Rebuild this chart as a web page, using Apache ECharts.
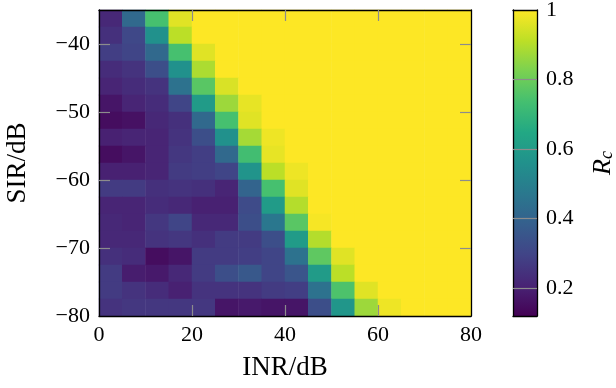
<!DOCTYPE html>
<html>
<head>
<meta charset="utf-8">
<script src="https://cdn.jsdelivr.net/npm/echarts@6/dist/echarts.min.js"></script>
<style>
  html, body { margin: 0; padding: 0; background: #fff; }
  #chart { width: 616px; height: 388px; }
</style>
</head>
<body>
<div id="chart"></div>
<script>
// cell centres (dB)
const inrCenters = [2.5, 7.5, 12.5, 17.5, 22.5, 27.5, 32.5, 37.5, 42.5, 47.5, 52.5, 57.5, 62.5, 67.5, 72.5, 77.5];
const sirCenters = [-36.25, -38.75, -41.25, -43.75, -46.25, -48.75, -51.25, -53.75, -56.25,
  -58.75, -61.25, -63.75, -66.25, -68.75, -71.25, -73.75, -76.25, -78.75];

// R_c, one row per SIR (top to bottom), one column per INR
const rc = [
  [0.22, 0.42, 0.74, 0.96, 1, 1, 1, 1, 1, 1, 1, 1, 1, 1, 1, 1],
  [0.24, 0.31, 0.56, 0.91, 1, 1, 1, 1, 1, 1, 1, 1, 1, 1, 1, 1],
  [0.28, 0.30, 0.42, 0.74, 0.96, 1, 1, 1, 1, 1, 1, 1, 1, 1, 1, 1],
  [0.23, 0.25, 0.33, 0.56, 0.89, 1, 1, 1, 1, 1, 1, 1, 1, 1, 1, 1],
  [0.21, 0.23, 0.25, 0.45, 0.77, 0.95, 1, 1, 1, 1, 1, 1, 1, 1, 1, 1],
  [0.17, 0.21, 0.23, 0.30, 0.60, 0.87, 0.97, 1, 1, 1, 1, 1, 1, 1, 1, 1],
  [0.15, 0.16, 0.22, 0.24, 0.42, 0.74, 0.96, 1, 1, 1, 1, 1, 1, 1, 1, 1],
  [0.20, 0.21, 0.21, 0.25, 0.33, 0.56, 0.88, 0.98, 1, 1, 1, 1, 1, 1, 1, 1],
  [0.15, 0.17, 0.21, 0.26, 0.28, 0.42, 0.73, 0.97, 1, 1, 1, 1, 1, 1, 1, 1],
  [0.20, 0.20, 0.21, 0.27, 0.28, 0.30, 0.57, 0.91, 0.98, 1, 1, 1, 1, 1, 1, 1],
  [0.27, 0.27, 0.24, 0.25, 0.24, 0.21, 0.40, 0.74, 0.96, 1, 1, 1, 1, 1, 1, 1],
  [0.21, 0.21, 0.23, 0.22, 0.20, 0.20, 0.32, 0.60, 0.90, 1, 1, 1, 1, 1, 1, 1],
  [0.22, 0.21, 0.26, 0.30, 0.22, 0.22, 0.33, 0.47, 0.77, 0.99, 1, 1, 1, 1, 1, 1],
  [0.22, 0.22, 0.25, 0.26, 0.24, 0.27, 0.27, 0.33, 0.60, 0.90, 1, 1, 1, 1, 1, 1],
  [0.24, 0.23, 0.15, 0.17, 0.27, 0.27, 0.28, 0.30, 0.45, 0.78, 0.96, 1, 1, 1, 1, 1],
  [0.27, 0.19, 0.18, 0.22, 0.27, 0.33, 0.36, 0.30, 0.35, 0.60, 0.91, 1, 1, 1, 1, 1],
  [0.27, 0.25, 0.23, 0.20, 0.25, 0.25, 0.25, 0.27, 0.28, 0.45, 0.75, 0.96, 1, 1, 1, 1],
  [0.25, 0.26, 0.26, 0.26, 0.26, 0.17, 0.18, 0.17, 0.17, 0.33, 0.58, 0.87, 0.98, 1, 1, 1]
];

const xTicks = [20, 40, 60];
const yTicks = [-70, -60, -50, -40];
const colorbarTicks = [0.2, 0.4, 0.6, 0.8, 1];
const colorbarInnerTicks = [0.2, 0.4, 0.6, 0.8];
const rcMin = 0.12;
const rcMax = 1;

const viridis = ["#440154", "#482475", "#414487", "#355f8d", "#2a788e", "#21918c",
  "#22a884", "#44bf70", "#7ad151", "#bddf26", "#fde725"];

const heatData = [];
rc.forEach((row, i) => row.forEach((v, j) => heatData.push([j, i, v])));

const font = "Liberation Serif, DejaVu Serif, serif";
const minus = (v) => String(v).replace("-", "\u2212");

const tick = (values, len) => ({ show: true, inside: true, length: len, customValues: values, lineStyle: { color: "#8c8c8c", width: 1.2 } });
const axisLine = { show: true, onZero: false, lineStyle: { color: "#000", width: 1.3 } };
const labelStyle = { color: "#000", fontSize: 22, fontFamily: font };
const noLabel = { show: false };
const noSplit = { show: false };

// fixed rectangles, no automatic shrinking to fit labels
const plot = { left: 99, top: 10, width: 372, height: 306, outerBoundsMode: "none", containLabel: false };
const bar = { left: 513, top: 10, width: 24, height: 306, outerBoundsMode: "none", containLabel: false };

// gradient for the colour bar, in pixel space of the bar
const barGradient = new echarts.graphic.LinearGradient(0, bar.top, 0, bar.top + bar.height,
  viridis.slice().reverse().map((c, i) => ({ offset: i / (viridis.length - 1), color: c })), true);

const chart = echarts.init(document.getElementById("chart"), null, { renderer: "canvas" });

chart.setOption({
  animation: false,
  textStyle: { fontFamily: font },
  grid: [
    { ...plot },
    { ...plot },
    { ...bar }
  ],
  xAxis: [
    { gridIndex: 0, type: "category", data: inrCenters, show: false },
    {
      gridIndex: 1, type: "value", min: 0, max: 80, interval: 20, position: "bottom", z: 10,
      axisLine: axisLine, axisTick: tick(xTicks, 11), splitLine: noSplit,
      axisLabel: { ...labelStyle, margin: 8 },
      name: "INR/dB", nameLocation: "middle", nameGap: 38,
      nameTextStyle: { color: "#000", fontSize: 27, fontFamily: font }
    },
    {
      gridIndex: 1, type: "value", min: 0, max: 80, interval: 20, position: "top", z: 10,
      axisLine: axisLine, axisTick: tick(xTicks, 11), splitLine: noSplit, axisLabel: noLabel
    },
    { gridIndex: 2, type: "category", data: ["Rc"], position: "bottom", z: 10,
      axisLine: axisLine, axisTick: { show: false }, axisLabel: noLabel, splitLine: noSplit },
    { gridIndex: 2, type: "category", data: ["Rc"], position: "top", z: 10,
      axisLine: axisLine, axisTick: { show: false }, axisLabel: noLabel, splitLine: noSplit }
  ],
  yAxis: [
    { gridIndex: 0, type: "category", data: sirCenters, inverse: true, show: false },
    {
      gridIndex: 1, type: "value", min: -80, max: -35, interval: 10, position: "left", z: 10,
      axisLine: axisLine, axisTick: tick(yTicks, 11), splitLine: noSplit,
      axisLabel: { ...labelStyle, margin: 9, showMaxLabel: false, formatter: (v) => (v === -35 ? "" : minus(v)) },
      name: "SIR/dB", nameLocation: "middle", nameGap: 68, nameRotate: 90,
      nameTextStyle: { color: "#000", fontSize: 27, fontFamily: font }
    },
    {
      gridIndex: 1, type: "value", min: -80, max: -35, interval: 10, position: "right", z: 10,
      axisLine: axisLine, axisTick: tick(yTicks, 11), splitLine: noSplit, axisLabel: noLabel
    },
    {
      gridIndex: 2, type: "value", min: rcMin, max: rcMax, position: "left", z: 10,
      axisLine: axisLine, axisTick: { show: false }, axisLabel: noLabel, splitLine: noSplit
    },
    {
      gridIndex: 2, type: "value", min: rcMin, max: rcMax, position: "right", z: 10,
      axisLine: axisLine,
      axisTick: tick(colorbarInnerTicks, 24),
      axisLabel: { ...labelStyle, margin: 9, customValues: colorbarTicks, formatter: (v) => String(+v.toFixed(1)) },
      splitLine: noSplit,
      name: "{r|R}{c|c}", nameLocation: "middle", nameGap: 51, nameRotate: 90,
      nameTextStyle: {
        color: "#000", fontFamily: font,
        rich: {
          r: { fontSize: 26, fontStyle: "italic", fontFamily: font, color: "#000", verticalAlign: "bottom", lineHeight: 28 },
          c: { fontSize: 18, fontStyle: "italic", fontFamily: font, color: "#000", verticalAlign: "bottom", lineHeight: 20 }
        }
      }
    }
  ],
  visualMap: {
    type: "continuous",
    show: false,
    seriesIndex: 0,
    min: rcMin,
    max: rcMax,
    inRange: { color: viridis }
  },
  series: [
    {
      type: "heatmap",
      xAxisIndex: 0,
      yAxisIndex: 0,
      data: heatData,
      progressive: 0,
      emphasis: { disabled: true },
      itemStyle: { borderWidth: 0 }
    },
    {
      // colour bar: one bar spanning the R_c range
      type: "bar",
      xAxisIndex: 3,
      yAxisIndex: 4,
      data: [rcMax],
      barWidth: "100%",
      silent: true,
      itemStyle: { color: barGradient }
    }
  ]
});

window.addEventListener("resize", () => chart.resize());
</script>
</body>
</html>
